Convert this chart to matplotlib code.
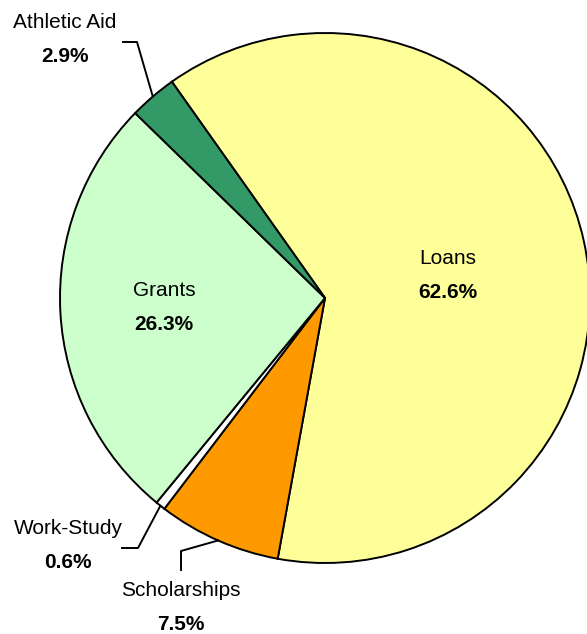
import numpy as np
import matplotlib
matplotlib.use("Agg")
import matplotlib.pyplot as plt

plt.rcParams['font.family'] = ['Liberation Sans', 'DejaVu Sans']

# data
labels = ["Loans", "Scholarships", "Work-Study", "Grants", "Athletic Aid"]
shares = [62.6, 7.5, 0.6, 26.3, 2.9]
colors = ["#FFFF99", "#FF9900", "#FFFFFF", "#CCFFCC", "#339966"]
explode = [0, 0, 0.025, 0, 0]

W, H = 587, 634
fig = plt.figure(figsize=(W / 100, H / 100), dpi=100)
ax = fig.add_axes([0, 0, 1, 1])

cx, cy, r = 325, H - 298, 265
start = 125.3
wedges, _ = ax.pie(shares, colors=colors, explode=explode, startangle=start,
                   counterclock=False, center=(cx, cy), radius=r,
                   wedgeprops=dict(edgecolor="black", linewidth=1.4),
                   frame=True)
ax.set_xlim(0, W)
ax.set_ylim(0, H)
ax.set_aspect("equal")
ax.axis("off")

def mid_point(i):
    w = wedges[i]
    a = np.deg2rad((w.theta1 + w.theta2) / 2)
    c = w.center
    return c[0] + w.r * np.cos(a), c[1] + w.r * np.sin(a)

fs = 15

def label(x, y, name, val):
    ax.text(x, H - y, name, ha="center", va="center", fontsize=fs)
    ax.text(x, H - y - 35, f"{val}%", ha="center", va="center",
            fontsize=fs, fontweight="bold")

# inside labels
label(448, 258, labels[0], shares[0])
label(164, 290, labels[3], shares[3])

# outside labels with leader lines
label(65, 22, labels[4], shares[4])
x0, y0 = mid_point(4)
ax.plot([x0, 137, 123], [y0, H - 42, H - 42], color="black", lw=1.4)

label(68, 528, labels[2], shares[2])
x0, y0 = mid_point(2)
ax.plot([x0, 138, 122], [y0, H - 548, H - 548], color="black", lw=1.4)

label(181, 590, labels[1], shares[1])
x0, y0 = mid_point(1)
ax.plot([x0, 181, 181], [y0, H - 551, H - 570], color="black", lw=1.4)

fig.savefig("out.png", dpi=100)
